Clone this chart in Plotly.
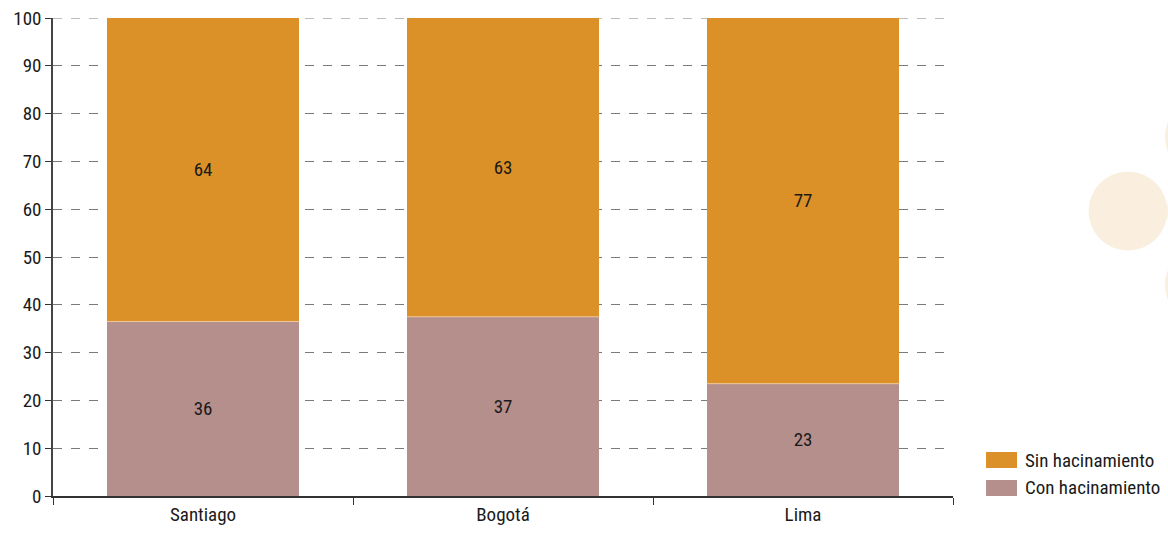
import plotly.graph_objects as go

# Shares of households by overcrowding status (%)
cities = ["Santiago", "Bogotá", "Lima"]
con_hacinamiento = [36.5, 37.5, 23.5]
sin_hacinamiento = [63.5, 62.5, 76.5]
con_labels = ["36", "37", "23"]
sin_labels = ["64", "63", "77"]
y_ticks = [0, 10, 20, 30, 40, 50, 60, 70, 80, 90, 100]

ORANGE = "#DC9128"
MAUVE = "#B58F8B"
FONT = "Roboto Condensed, Liberation Sans Narrow, Roboto, Arial Narrow, sans-serif"
TEXT = "#1a1a1a"
FS = 19

fig = go.Figure()
fig.add_trace(go.Bar(
    x=cities, y=con_hacinamiento, name="Con hacinamiento",
    marker=dict(color=MAUVE, line=dict(width=0)),
    text=con_labels, textposition="inside", insidetextanchor="middle",
    textfont=dict(family=FONT, size=FS, color=TEXT), showlegend=False,
))
fig.add_trace(go.Bar(
    x=cities, y=sin_hacinamiento, name="Sin hacinamiento",
    marker=dict(color=ORANGE, line=dict(width=0)),
    text=sin_labels, textposition="inside", insidetextanchor="middle",
    textfont=dict(family=FONT, size=FS, color=TEXT), showlegend=False,
))

# Thin light seam between the two stacked segments
seam = [dict(type="line", xref="x", yref="y", x0=i - 0.32, x1=i + 0.32,
             y0=v, y1=v, line=dict(color="#EDC9A0", width=1), layer="above")
        for i, v in enumerate(con_hacinamiento)]

# Dashed gridline along the top of the value range
top_grid = [dict(type="line", xref="paper", yref="y", x0=0, x1=1,
                 y0=y_ticks[-1], y1=y_ticks[-1],
                 line=dict(color="#7a7a7a", width=1, dash="dash"), layer="below")]

# Legend drawn as swatches + labels (swatch shape wider than plotly's default)
legend_items = [("Sin hacinamiento", ORANGE, 0.092, 0.0586),
                ("Con hacinamiento", MAUVE, 0.0335, 0.0)]
legend_shapes = []
legend_ann = []
for label, color, ytop, ybot in legend_items:
    legend_shapes.append(dict(type="rect", xref="paper", yref="paper",
                              x0=1.0367, x1=1.0711, y0=ybot, y1=ytop,
                              fillcolor=color, line=dict(width=0)))
    legend_ann.append(dict(xref="paper", yref="paper", x=1.078, y=(ytop + ybot) / 2,
                           text=label, showarrow=False, xanchor="left", yanchor="middle",
                           font=dict(family=FONT, size=FS, color=TEXT)))

# Decorative dots at the right edge
def dot(cx, cy, r):
    # pixel coordinates converted to paper coordinates of the plot area
    l, t, w, h = 53, 18, 900, 478
    return dict(type="circle", xref="paper", yref="paper",
                x0=(cx - r - l) / w, x1=(cx + r - l) / w,
                y0=(t + h - (cy + r)) / h, y1=(t + h - (cy - r)) / h,
                fillcolor="#FAEEDF", line=dict(width=0), layer="below")

dots = [dot(1128, 211, 39.5), dot(1206, 137, 41), dot(1206, 285, 41), dot(1208, 211, 41)]

fig.update_layout(
    barmode="stack",
    bargap=0.36,
    width=1168, height=535,
    margin=dict(l=53, r=215, t=18, b=39, autoexpand=False),
    paper_bgcolor="white", plot_bgcolor="white",
    font=dict(family=FONT, size=FS, color=TEXT),
    uniformtext=dict(mode="show", minsize=10),
    shapes=dots + top_grid + seam + legend_shapes,
    annotations=legend_ann,
    xaxis=dict(
        tickson="boundaries", ticks="outside", ticklen=7, tickcolor="#333333",
        showline=True, linecolor="#333333", linewidth=1.5,
        showgrid=False, tickfont=dict(family=FONT, size=FS, color=TEXT),
        range=[-0.5, 2.5], automargin=False,
    ),
    yaxis=dict(
        range=[0, 100], tickvals=y_ticks, ticks="outside", ticklen=6,
        tickcolor="#333333", showline=True, linecolor="#444444", linewidth=1.5,
        showgrid=True, gridcolor="#7a7a7a", griddash="dash", gridwidth=1,
        zeroline=False, tickfont=dict(family=FONT, size=FS, color=TEXT),
        layer="below traces", automargin=False,
    ),
)

fig.write_html("out.html")
